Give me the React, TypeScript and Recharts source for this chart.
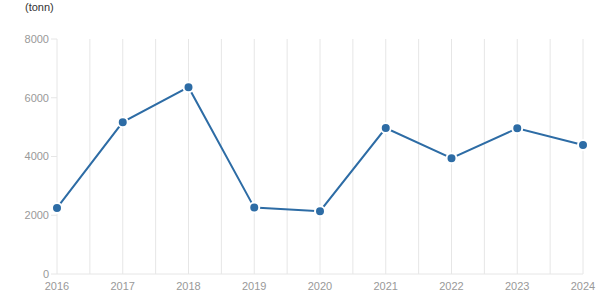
import { LineChart, Line, XAxis, YAxis, CartesianGrid } from "recharts";

const YEARS = [2016, 2017, 2018, 2019, 2020, 2021, 2022, 2023, 2024];
const TONNES = [2250, 5170, 6360, 2260, 2140, 4970, 3940, 4960, 4390];
const Y_TICKS = [0, 2000, 4000, 6000, 8000];
const X_GRID = [2016, 2016.5, 2017, 2017.5, 2018, 2018.5, 2019, 2019.5, 2020, 2020.5, 2021, 2021.5, 2022, 2022.5, 2023, 2023.5, 2024];

const BLUE = "#2d6ca5";
const AXIS = "#e6e6e6";
const TICK = "#999999";

const data = YEARS.map((year, i) => ({ year, v: TONNES[i] }));

export default function App() {
  return (
    <div style={{ position: "absolute", left: 0, top: 0, width: 615, height: 305, background: "#fff", fontFamily: "'Liberation Sans', Arial, sans-serif" }}>
      <div style={{ position: "absolute", left: 25, top: 1, fontSize: 11, color: "#333" }}>(tonn)</div>
      <LineChart width={615} height={305} data={data} margin={{ top: 39, right: 32, left: 0, bottom: 0 }}>
        <CartesianGrid horizontal={false} stroke={AXIS} />
        <XAxis
          dataKey="year"
          type="number"
          domain={[2016, 2024]}
          ticks={X_GRID}
          interval={0}
          tickFormatter={(t: number) => (Number.isInteger(t) ? String(t) : "")}
          tickLine={false}
          axisLine={{ stroke: AXIS }}
          tick={{ fill: TICK, fontSize: 11 }}
          tickSize={6}
          height={31}
        />
        <YAxis
          domain={[0, 8000]}
          ticks={Y_TICKS}
          width={57}
          axisLine={false}
          tickLine={{ stroke: AXIS }}
          tick={{ fill: TICK, fontSize: 11 }}
          tickSize={6}
        />
        <Line
          dataKey="v"
          stroke={BLUE}
          strokeWidth={2}
          dot={{ r: 5, fill: BLUE, stroke: "#fff", strokeWidth: 2 }}
          isAnimationActive={false}
        />
      </LineChart>
    </div>
  );
}
